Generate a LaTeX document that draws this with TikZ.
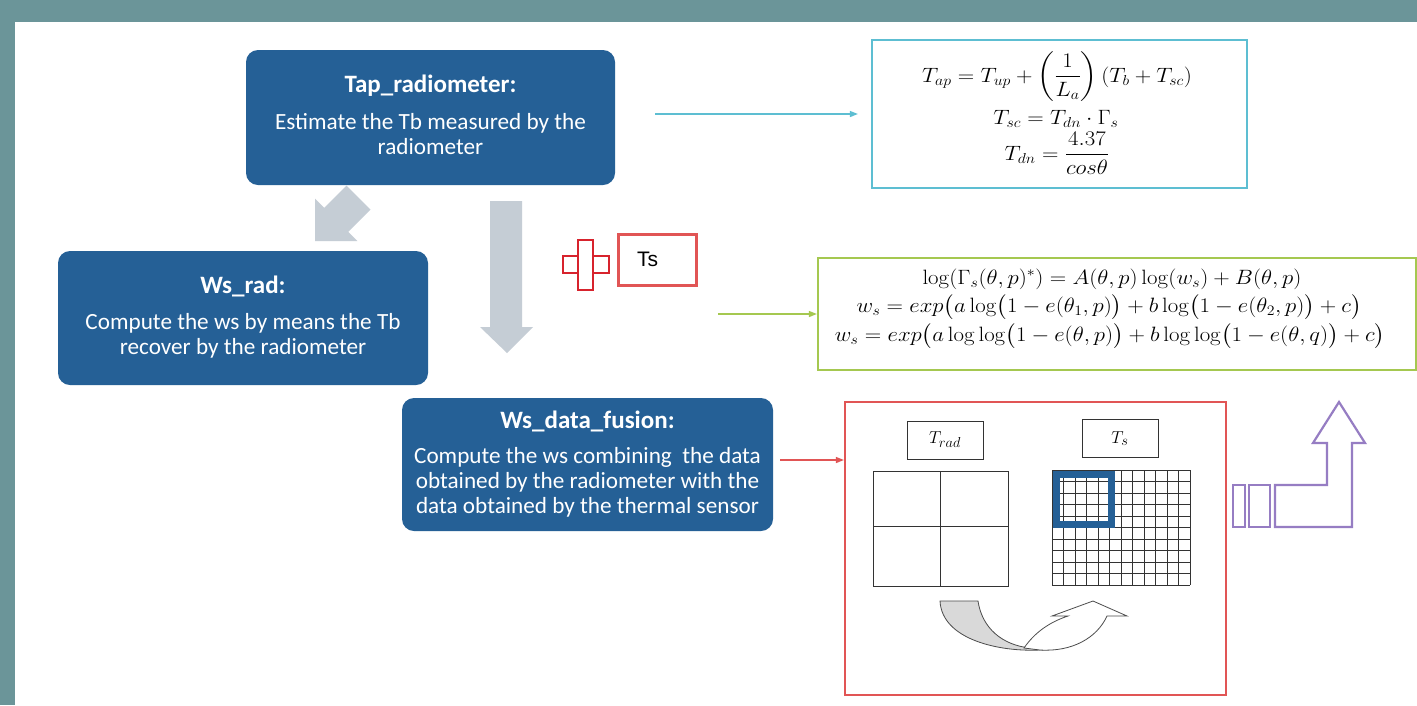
\documentclass[tikz,border=0pt]{standalone}
\usepackage{amsmath}
\usepackage[no-math]{fontspec}
\setmainfont{Carlito}
\newfontfamily\arialfont{Liberation Sans}
\usetikzlibrary{arrows.meta}
\definecolor{framecol}{RGB}{107,149,153}
\definecolor{boxblue}{RGB}{37,96,150}
\definecolor{arrowgrey}{RGB}{197,205,213}
\definecolor{cyanl}{RGB}{93,190,210}
\definecolor{greenl}{RGB}{165,200,80}
\definecolor{redl}{RGB}{225,85,85}
\definecolor{crossred}{RGB}{215,35,45}
\definecolor{purplel}{RGB}{150,125,195}
\newcommand{\eqs}[1]{\scalebox{1.1}[1]{$#1$}}
\begin{document}
\begin{tikzpicture}[x=1pt,y=-1pt,
  bluebox/.style={fill=boxblue, rounded corners=12pt, draw=none, inner sep=0},
  txt/.style={text=white, font=\fontsize{23.2}{25}\selectfont, align=center, inner sep=0},
  ttl/.style={text=white, font=\fontsize{25}{25}\selectfont\bfseries, inner sep=0},
  eqbox/.style={draw, line width=2.2pt, fill=white, inner sep=0},
  eq/.style={inner sep=0, anchor=base, font=\fontsize{20}{22}\selectfont},
  conn/.style={line width=1.3pt, -{Triangle[length=8pt,width=6pt]}},
  gline/.style={line width=0.9pt, draw=black!80}]
\useasboundingbox (0,0) rectangle (1417,705);
\fill[framecol] (0,0) rectangle (1417,705);
\fill[white] (15,22) rectangle (1417,705);

% grey block arrows
\fill[arrowgrey] (346.5,185.5) -- (370.5,209.5) -- (348.2,231.8) -- (357.4,241) -- (315,241) -- (315,198.6) -- (324.2,207.8) -- cycle;
\fill[arrowgrey] (490,201) -- (522,201) -- (522,327) -- (533,327) -- (507,353) -- (480,327) -- (490,327) -- cycle;

% blue boxes
\node[bluebox, minimum width=369pt, minimum height=135pt] (tap) at (430.5,117.5) {};
\node[ttl] (tapt) at (430.5,86) {Tap\_radiometer:};
\node[txt] (tapb) at (430.5,134.5) {Estimate the Tb measured by the\\radiometer};

\node[bluebox, minimum width=370pt, minimum height=134pt] (wsr) at (243,318) {};
\node[ttl] (wsrt) at (243,286) {Ws\_rad:};
\node[txt] (wsrb) at (243,335.5) {Compute the ws by means the Tb\\recover by the radiometer};

\node[bluebox, minimum width=371pt, minimum height=133pt] (fus) at (587.5,464.5) {};
\node[ttl] (fust) at (587.5,421) {Ws\_data\_fusion:};
\node[txt] (fusb) at (587.5,482.5) {Compute the ws combining \ the data\\obtained by the radiometer with the\\data obtained by the thermal sensor};

% equation box 1
\node[eqbox, draw=cyanl, minimum width=375pt, minimum height=148pt] (eq1) at (1059.5,114) {};
\node[eq] (e11) at (1057,82) {\eqs{T_{ap} = T_{up} + \left(\dfrac{1}{L_a}\right)(T_b + T_{sc})}};
\node[eq] (e12) at (1056,124) {\eqs{T_{sc} = T_{dn}\cdot\Gamma_s}};
\node[eq] (e13) at (1057,160) {\eqs{T_{dn} = \dfrac{4.37}{cos\theta}}};

% equation box 2
\node[eqbox, draw=greenl, minimum width=598pt, minimum height=112pt] (eq2) at (1117,314) {};
\node[eq] (e21) at (1112,284) {\eqs{\log(\Gamma_s(\theta,p)^{*}) = A(\theta,p)\log(w_s) + B(\theta,p)}};
\node[eq] (e22) at (1109,312) {\eqs{w_s = exp\bigl(a\log\bigl(1-e(\theta_1,p)\bigr) + b\log\bigl(1-e(\theta_2,p)\bigr) + c\bigr)}};
\node[eq] (e23) at (1110,341) {\eqs{w_s = exp\bigl(a\log\log\bigl(1-e(\theta,p)\bigr) + b\log\log\bigl(1-e(\theta,q)\bigr) + c\bigr)}};

% red box with grids
\node[draw=redl, line width=2.2pt, minimum width=381pt, minimum height=293pt, inner sep=0] (rbox) at (1035.5,548.5) {};
\node[draw=black!80, line width=1pt, minimum width=76pt, minimum height=38pt, inner sep=0, font=\fontsize{19}{20}\selectfont] (trad) at (945,440) {$T_{rad}$};
\node[draw=black!80, line width=1pt, minimum width=76pt, minimum height=38pt, inner sep=0, font=\fontsize{19}{20}\selectfont] (tsb) at (1120,438.5) {$T_s$};
\draw[gline] (873,471) rectangle (1008,586);
\draw[gline] (940.5,471) -- (940.5,586);
\draw[gline] (873,526) -- (1008,526);
\foreach \i in {0,...,12} \draw[gline] (1052+\i*11.5,470) -- (1052+\i*11.5,585);
\foreach \j in {0,...,10} \draw[gline] (1052,470+\j*11.5) -- (1190,470+\j*11.5);
\draw[boxblue, line width=7pt] (1056,474) rectangle (1111,524.5);

% curved arrows
\draw[fill=black!15, draw=black!70, line width=0.8pt] (940,601) -- (978,601) .. controls (982,628) and (1002,645) .. (1030,648) -- (1040,650) .. controls (1000,652) and (942,640) .. (940,601) -- cycle;
\draw[fill=white, draw=black!70, line width=0.8pt] (1024,648) .. controls (1035,632) and (1050,622) .. (1068,616) -- (1052,616) -- (1093,601) -- (1127,616) -- (1107,616) .. controls (1097,638) and (1072,652) .. (1040,650) -- cycle;

% red cross and Ts box
\draw[crossred, line width=2.2pt, fill=white] (563,256) rectangle (609,273);
\draw[crossred, line width=2.2pt, fill=white] (578,240) rectangle (593,290);
\node[draw=redl, line width=2.8pt, minimum width=78pt, minimum height=51pt, inner sep=0] (tsbox) at (657.5,260) {};
\node[inner sep=0, anchor=west, font=\arialfont\fontsize{21}{22}\selectfont] (tslab) at (637,259) {Ts};

% purple bent arrow
\draw[purplel, line width=2.2pt] (1233,485) rectangle (1245,527);
\draw[purplel, line width=2.2pt] (1249,485) rectangle (1270,527);
\draw[purplel, line width=2.2pt, line join=miter] (1275,485) -- (1327,485) -- (1327,443) -- (1313,443) -- (1339,402) -- (1365,443) -- (1352,443) -- (1352,527) -- (1275,527) -- cycle;

% connectors
\draw[conn, cyanl, shorten >=13pt] ([xshift=40pt,yshift=3.5pt]tap.east) -- (eq1.west |- 0,114);
\coordinate (g0) at (718,314);
\draw[conn, greenl] (g0) -- (eq2.west);
\draw[conn, redl] ([xshift=7pt,yshift=4.5pt]fus.east) -- (rbox.west |- 0,460);
\end{tikzpicture}
\end{document}
